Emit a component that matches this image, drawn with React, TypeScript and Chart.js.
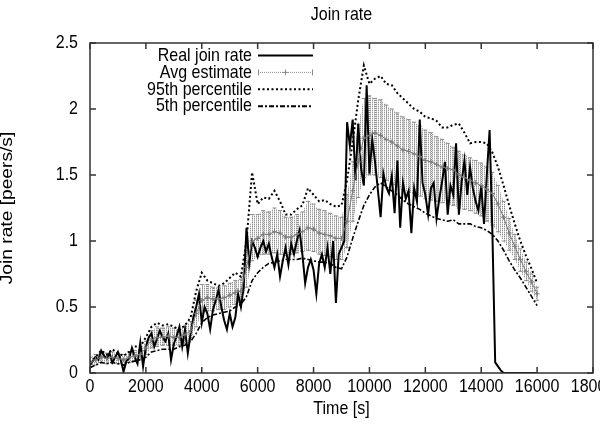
import React, { useEffect, useRef } from "react";
import { Chart, registerables } from "chart.js";

Chart.register(...registerables);

const TITLE = "Join rate";
const X_TITLE = "Time [s]";
const Y_TITLE = "Join rate [peers/s]";
const SERIES_NAMES = ["Real join rate", "Avg estimate", "95th percentile", "5th percentile"];
const X_TICKS = [0, 2000, 4000, 6000, 8000, 10000, 12000, 14000, 16000, 18000];
const Y_TICKS = [0, 0.5, 1, 1.5, 2, 2.5];

// Real join rate, sampled every 100 s from 0 to 16000 s
const REAL_STEP = 100;
const realRate = [
  0.06, 0.09, 0.12, 0.10, 0.17, 0.13, 0.11, 0.15, 0.08, 0.12,
  0.16, 0.10, 0.01, 0.09, 0.11, 0.19, 0.12, 0.07, 0.23, 0.05,
  0.20, 0.27, 0.30, 0.20, 0.26, 0.32, 0.27, 0.24, 0.30, 0.10,
  0.22, 0.28, 0.35, 0.20, 0.33, 0.15, 0.30, 0.42, 0.50, 0.60,
  0.38, 0.50, 0.45, 0.33, 0.48, 0.55, 0.63, 0.50, 0.40, 0.33,
  0.45, 0.35, 0.42, 0.60, 0.50, 0.65, 1.10, 0.83, 1.00, 0.95,
  0.88, 0.95, 1.00, 0.92, 0.98, 0.88, 0.80, 0.90, 0.73, 0.85,
  0.95, 0.82, 0.98, 0.90, 1.00, 1.08, 0.90, 0.68, 0.80, 0.86,
  0.78, 0.60, 0.83, 0.90, 0.80, 0.95, 0.75, 1.00, 0.53, 0.90,
  0.95, 1.00, 1.90, 1.72, 1.92, 1.46, 1.89, 1.55, 1.42, 2.18,
  1.51, 1.77, 1.60, 1.39, 1.18, 1.51, 1.41, 1.36, 1.49, 1.21,
  1.61, 1.10, 1.44, 1.32, 1.38, 1.06, 1.40, 1.30, 1.92, 1.44,
  1.35, 1.20, 1.40, 1.44, 1.17, 1.32, 1.45, 1.60, 1.20, 1.42,
  1.35, 1.74, 1.20, 1.45, 1.61, 1.35, 1.56, 1.40, 1.30, 1.23,
  1.42, 1.13, 1.50, 1.84, 1.06, 0.08, 0.05, 0.02, 0.00, 0.00,
  0.00, 0.00, 0.00, 0.00, 0.00, 0.00, 0.00, 0.00, 0.00, 0.00, 0.00,
];

// Estimates, sampled every 200 s from 0 to 16000 s
const EST_STEP = 200;
const avgEstimate = [
  0.08, 0.10, 0.12, 0.11, 0.12, 0.11, 0.10, 0.12, 0.13, 0.14,
  0.19, 0.25, 0.27, 0.27, 0.28, 0.27, 0.27, 0.29, 0.32, 0.45,
  0.55, 0.57, 0.56, 0.56, 0.57, 0.59, 0.61, 0.62, 0.80, 1.00,
  1.02, 1.05, 1.05, 1.07, 1.06, 1.03, 1.03, 1.05, 1.07, 1.10,
  1.09, 1.06, 1.05, 1.04, 1.02, 1.02, 1.15, 1.38, 1.60, 1.78,
  1.80, 1.82, 1.80, 1.77, 1.75, 1.72, 1.69, 1.68, 1.66, 1.64,
  1.61, 1.60, 1.58, 1.56, 1.55, 1.54, 1.50, 1.48, 1.46, 1.44,
  1.42, 1.39, 1.36, 1.28, 1.18, 1.06, 0.96, 0.86, 0.77, 0.69,
  0.60,
];
const avgLow = [
  0.05, 0.06, 0.08, 0.07, 0.08, 0.07, 0.06, 0.08, 0.09, 0.10,
  0.14, 0.19, 0.20, 0.21, 0.21, 0.21, 0.21, 0.22, 0.25, 0.35,
  0.45, 0.47, 0.47, 0.48, 0.48, 0.50, 0.52, 0.53, 0.65, 0.85,
  0.88, 0.90, 0.90, 0.91, 0.90, 0.89, 0.90, 0.91, 0.92, 0.93,
  0.92, 0.90, 0.89, 0.88, 0.86, 0.86, 0.95, 1.15, 1.33, 1.48,
  1.50, 1.50, 1.48, 1.46, 1.43, 1.41, 1.39, 1.37, 1.36, 1.34,
  1.32, 1.31, 1.30, 1.29, 1.28, 1.27, 1.25, 1.24, 1.23, 1.21,
  1.19, 1.15, 1.12, 1.07, 1.00, 0.93, 0.86, 0.77, 0.70, 0.62,
  0.55,
];
const avgHigh = [
  0.12, 0.14, 0.16, 0.15, 0.16, 0.15, 0.14, 0.16, 0.17, 0.18,
  0.24, 0.32, 0.35, 0.34, 0.35, 0.34, 0.33, 0.35, 0.39, 0.55,
  0.67, 0.67, 0.65, 0.65, 0.66, 0.68, 0.70, 0.71, 0.95, 1.20,
  1.20, 1.23, 1.22, 1.25, 1.23, 1.18, 1.18, 1.20, 1.22, 1.30,
  1.28, 1.24, 1.23, 1.21, 1.19, 1.18, 1.35, 1.60, 1.88, 2.08,
  2.10, 2.08, 2.07, 2.03, 2.00, 1.97, 1.94, 1.92, 1.90, 1.87,
  1.84, 1.82, 1.79, 1.77, 1.74, 1.71, 1.68, 1.65, 1.63, 1.61,
  1.59, 1.56, 1.52, 1.42, 1.30, 1.17, 1.05, 0.94, 0.84, 0.75,
  0.65,
];
const p95 = [
  0.08, 0.12, 0.17, 0.14, 0.18, 0.15, 0.13, 0.16, 0.20, 0.20,
  0.27, 0.35, 0.38, 0.36, 0.37, 0.35, 0.33, 0.36, 0.42, 0.62,
  0.76, 0.70, 0.68, 0.66, 0.68, 0.72, 0.76, 0.73, 1.00, 1.52,
  1.28, 1.33, 1.32, 1.38, 1.30, 1.20, 1.20, 1.24, 1.27, 1.40,
  1.35, 1.30, 1.31, 1.28, 1.26, 1.27, 1.46, 1.75, 2.07, 2.33,
  2.19, 2.23, 2.25, 2.19, 2.18, 2.12, 2.08, 2.04, 2.00, 1.98,
  1.94, 1.93, 1.91, 1.86, 1.86, 1.88, 1.89, 1.82, 1.74, 1.75,
  1.75, 1.74, 1.67, 1.56, 1.42, 1.27, 1.13, 1.00, 0.89, 0.79,
  0.68,
];
const p5 = [
  0.04, 0.06, 0.08, 0.07, 0.08, 0.07, 0.06, 0.08, 0.09, 0.10,
  0.12, 0.16, 0.17, 0.18, 0.18, 0.18, 0.20, 0.21, 0.24, 0.30,
  0.38, 0.42, 0.44, 0.45, 0.46, 0.47, 0.50, 0.52, 0.58, 0.70,
  0.76, 0.80, 0.83, 0.84, 0.85, 0.86, 0.86, 0.86, 0.87, 0.86,
  0.85, 0.84, 0.84, 0.83, 0.80, 0.79, 0.88, 1.02, 1.15, 1.27,
  1.35, 1.41, 1.44, 1.41, 1.38, 1.35, 1.31, 1.28, 1.26, 1.24,
  1.21, 1.19, 1.17, 1.16, 1.15, 1.16, 1.13, 1.13, 1.13, 1.11,
  1.10, 1.08, 1.05, 1.00, 0.93, 0.85, 0.78, 0.72, 0.65, 0.58,
  0.51,
];

const FONT = "'Liberation Sans', Arial, Helvetica, sans-serif";
const FRAME = "#333333";
const BAND = "#8a8a8a";
const STRETCH = 1.2; // glyphs in the reference are taller than wide

const toPoints = (vals: number[], step: number) => vals.map((v, i) => ({ x: i * step, y: v }));

const drawText = (ctx: any, text: string, x: number, y: number, align: string, rotate = false) => {
  ctx.save();
  ctx.translate(x, y);
  ctx.scale(1, STRETCH);
  if (rotate) ctx.rotate(-Math.PI / 2);
  ctx.font = `16px ${FONT}`;
  ctx.fillStyle = "#000";
  ctx.textAlign = align;
  ctx.textBaseline = "middle";
  ctx.fillText(text, 0, 0);
  ctx.restore();
};

const errorBars = {
  id: "errorBars",
  beforeDatasetsDraw(chart: any) {
    const { ctx, chartArea, scales } = chart;
    const xs = scales.x, ys = scales.y;
    ctx.save();
    ctx.beginPath();
    ctx.rect(chartArea.left, chartArea.top, chartArea.right - chartArea.left, chartArea.bottom - chartArea.top);
    ctx.clip();
    const tile = document.createElement("canvas");
    tile.width = 2; tile.height = 2;
    const tctx = tile.getContext("2d")!;
    tctx.fillStyle = "#9a9a9a";
    tctx.fillRect(0, 0, 1, 1);
    tctx.fillStyle = "#d6d6d6";
    tctx.fillRect(0, 1, 1, 1);
    const pat = ctx.createPattern(tile, "repeat");
    ctx.beginPath();
    avgHigh.forEach((v, i) => {
      const px = xs.getPixelForValue(i * EST_STEP);
      const py = ys.getPixelForValue(v);
      if (i === 0) ctx.moveTo(px, py); else ctx.lineTo(px, py);
    });
    for (let i = avgLow.length - 1; i >= 0; i--) {
      ctx.lineTo(xs.getPixelForValue(i * EST_STEP), ys.getPixelForValue(avgLow[i]));
    }
    ctx.closePath();
    ctx.fillStyle = pat;
    ctx.fill();
    ctx.strokeStyle = BAND;
    ctx.lineWidth = 1;
    ctx.setLineDash([1, 1]);
    avgEstimate.forEach((_, i) => {
      const px = Math.round(xs.getPixelForValue(i * EST_STEP)) + 0.5;
      ctx.beginPath();
      ctx.moveTo(px, ys.getPixelForValue(avgLow[i]));
      ctx.lineTo(px, ys.getPixelForValue(avgHigh[i]));
      ctx.stroke();
    });
    ctx.setLineDash([]);
    avgEstimate.forEach((_, i) => {
      const px = xs.getPixelForValue(i * EST_STEP);
      const yl = ys.getPixelForValue(avgLow[i]);
      const yh = ys.getPixelForValue(avgHigh[i]);
      ctx.beginPath();
      ctx.moveTo(px - 2, yl); ctx.lineTo(px + 2, yl);
      ctx.moveTo(px - 2, yh); ctx.lineTo(px + 2, yh);
      ctx.stroke();
    });
    ctx.restore();
  },
};

const frameTextLegend = {
  id: "frameTextLegend",
  afterDraw(chart: any) {
    const { ctx, chartArea, scales } = chart;
    const { left, right, top, bottom } = chartArea;
    ctx.save();
    ctx.strokeStyle = FRAME;
    ctx.lineWidth = 1.5;
    ctx.setLineDash([]);
    ctx.strokeRect(left, top, right - left, bottom - top);
    const tl = 6;
    ctx.beginPath();
    scales.x.ticks.forEach((t: any) => {
      const px = scales.x.getPixelForValue(t.value);
      ctx.moveTo(px, bottom); ctx.lineTo(px, bottom - tl);
      ctx.moveTo(px, top); ctx.lineTo(px, top + tl);
    });
    scales.y.ticks.forEach((t: any) => {
      const py = scales.y.getPixelForValue(t.value);
      ctx.moveTo(left, py); ctx.lineTo(left + tl, py);
      ctx.moveTo(right, py); ctx.lineTo(right - tl, py);
    });
    ctx.stroke();
    ctx.restore();

    // texts: title, tick labels, axis titles
    const cxPlot = (left + right) / 2;
    const cyPlot = (top + bottom) / 2;
    drawText(ctx, TITLE, cxPlot, 15, "center");
    scales.x.ticks.forEach((t: any) => drawText(ctx, String(t.value), scales.x.getPixelForValue(t.value), bottom + 14, "center"));
    scales.y.ticks.forEach((t: any) => drawText(ctx, String(t.value), left - 12, scales.y.getPixelForValue(t.value), "right"));
    drawText(ctx, X_TITLE, cxPlot, 409, "center");
    drawText(ctx, Y_TITLE, 8, cyPlot, "center", true);

    // legend (gnuplot style: text right-aligned, sample on the right)
    const textRight = 252;
    const s0 = 258, s1 = 313;
    const rowY = (i: number) => 55.5 + i * 16.9;
    SERIES_NAMES.forEach((name, i) => drawText(ctx, name, textRight, rowY(i), "right"));

    ctx.save();
    ctx.strokeStyle = "#000";
    ctx.lineWidth = 2;
    ctx.beginPath(); ctx.moveTo(s0, rowY(0)); ctx.lineTo(s1, rowY(0)); ctx.stroke();
    const y1 = rowY(1);
    ctx.strokeStyle = BAND;
    ctx.lineWidth = 1;
    ctx.setLineDash([1, 1]);
    ctx.beginPath(); ctx.moveTo(s0, y1); ctx.lineTo(s1, y1); ctx.stroke();
    ctx.setLineDash([]);
    ctx.beginPath();
    ctx.moveTo(s0 + 0.5, y1 - 3); ctx.lineTo(s0 + 0.5, y1 + 3);
    ctx.moveTo(s1 - 0.5, y1 - 3); ctx.lineTo(s1 - 0.5, y1 + 3);
    const cx = (s0 + s1) / 2;
    ctx.moveTo(cx, y1 - 3); ctx.lineTo(cx, y1 + 3);
    ctx.moveTo(cx - 3, y1); ctx.lineTo(cx + 3, y1);
    ctx.stroke();
    ctx.strokeStyle = "#000";
    ctx.lineWidth = 2;
    ctx.setLineDash([2, 2.5]);
    ctx.beginPath(); ctx.moveTo(s0, rowY(2)); ctx.lineTo(s1, rowY(2)); ctx.stroke();
    ctx.setLineDash([5, 2, 2, 2]);
    ctx.beginPath(); ctx.moveTo(s0, rowY(3)); ctx.lineTo(s1, rowY(3)); ctx.stroke();
    ctx.restore();
  },
};

export default function App() {
  const ref = useRef<HTMLCanvasElement>(null);
  useEffect(() => {
    const chart = new Chart(ref.current!, {
      type: "line",
      data: {
        datasets: [
          {
            label: SERIES_NAMES[1],
            data: toPoints(avgEstimate, EST_STEP),
            borderColor: "#7a7a7a",
            borderWidth: 1,
            pointStyle: "cross",
            pointRadius: 2.5,
            pointBorderColor: "#7a7a7a",
            pointBorderWidth: 1,
            tension: 0,
          },
          {
            label: SERIES_NAMES[0],
            data: toPoints(realRate, REAL_STEP),
            borderColor: "#000",
            borderWidth: 2,
            pointRadius: 0,
            tension: 0,
          },
          {
            label: SERIES_NAMES[2],
            data: toPoints(p95, EST_STEP),
            borderColor: "#000",
            borderWidth: 2,
            borderDash: [2, 2.5],
            pointRadius: 0,
            tension: 0,
          },
          {
            label: SERIES_NAMES[3],
            data: toPoints(p5, EST_STEP),
            borderColor: "#000",
            borderWidth: 1.6,
            borderDash: [5, 2, 2, 2],
            pointRadius: 0,
            tension: 0,
          },
        ],
      },
      options: {
        responsive: false,
        maintainAspectRatio: false,
        animation: false,
        layout: { padding: { left: 0, top: 43, right: 89, bottom: 0 } },
        scales: {
          x: {
            type: "linear",
            min: 0,
            max: 18000,
            afterBuildTicks: (s: any) => { s.ticks = X_TICKS.map((v) => ({ value: v })); },
            afterFit: (s: any) => { s.height = 52; },
            ticks: { display: false },
            grid: { display: false },
            border: { display: false },
          },
          y: {
            min: 0,
            max: 2.5,
            afterBuildTicks: (s: any) => { s.ticks = Y_TICKS.map((v) => ({ value: v })); },
            afterFit: (s: any) => { s.width = 90; },
            ticks: { display: false },
            grid: { display: false },
            border: { display: false },
          },
        },
        plugins: {
          legend: { display: false },
          tooltip: { enabled: false },
          title: { display: false },
        },
      },
      plugins: [errorBars, frameTextLegend],
    } as any);
    return () => chart.destroy();
  }, []);
  return (
    <div style={{ position: "fixed", left: 0, top: 0, width: 600, height: 425, overflow: "hidden", background: "#fff" }}>
      <canvas ref={ref} width={682} height={425} style={{ display: "block" }} />
    </div>
  );
}
